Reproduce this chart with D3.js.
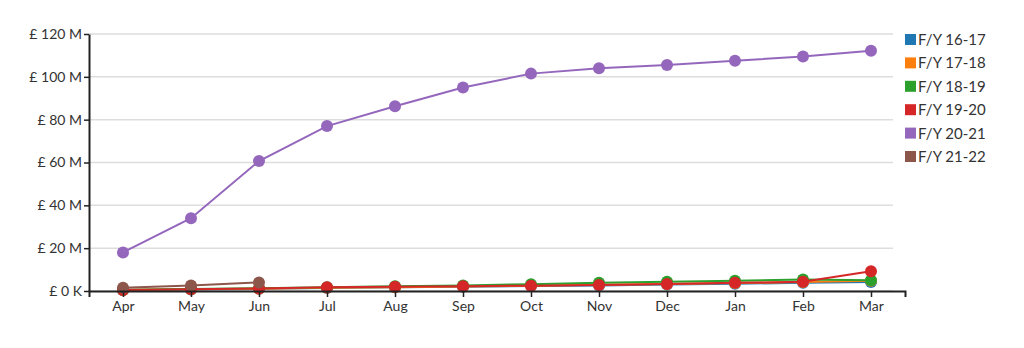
<!DOCTYPE html>
<html><head><meta charset="utf-8">
<script src="https://cdn.jsdelivr.net/npm/d3@7"></script>
<style>
body{margin:0;background:#fff;}
text{font-family:Lato,"Open Sans",sans-serif;fill:#333;}
</style></head><body>
<svg id="c" width="1024" height="348"></svg>
<script>
const months = ["Apr","May","Jun","Jul","Aug","Sep","Oct","Nov","Dec","Jan","Feb","Mar"];
const seriesNames = ["F/Y 16-17","F/Y 17-18","F/Y 18-19","F/Y 19-20","F/Y 20-21","F/Y 21-22"];
const colors = ["#1f77b4","#ff7f0e","#2ca02c","#d62728","#9467bd","#8c564b"];
const fy1617 = [0.4,0.7,1.0,1.4,1.7,2.0,2.3,2.6,3.0,3.4,3.8,4.2];
const fy1718 = [0.5,0.8,1.1,1.5,1.8,2.1,2.5,2.9,3.3,3.7,4.2,4.8];
const fy1819 = [0.6,0.9,1.3,1.8,2.2,2.6,3.2,3.8,4.3,4.8,5.4,5.0];
const fy1920 = [0.5,0.8,1.2,1.8,2.0,2.2,2.5,2.8,3.3,3.8,4.3,9.2];
const fy2021 = [18.0,34.0,60.7,77.0,86.3,95.0,101.5,104.0,105.5,107.5,109.5,112.2];
const fy2122 = [1.5,2.6,4.0];
const yTicks = [0,20,40,60,80,100,120];
const seriesValues = [fy1617,fy1718,fy1819,fy1920,fy2021,fy2122];

const svg = d3.select("#c");
const x = d3.scalePoint().domain(months).range([89,905]).padding(0.5);
const y = d3.scaleLinear().domain([0,120]).range([291,34]);

// gridlines
svg.append("g").selectAll("line").data(yTicks).join("line")
  .attr("x1",89).attr("x2",893).attr("y1",d=>y(d)).attr("y2",d=>y(d))
  .attr("stroke","#ddd").attr("stroke-width",1.5);

const line = d3.line().x(d=>x(d.m)).y(d=>y(d.v));
seriesValues.forEach((vals,i)=>{
  const pts = vals.map((v,j)=>({m:months[j],v}));
  const g = svg.append("g");
  g.append("path").datum(pts).attr("d",line).attr("fill","none")
    .attr("stroke",colors[i]).attr("stroke-width",2);
  g.selectAll("circle").data(pts).join("circle")
    .attr("cx",d=>x(d.m)).attr("cy",d=>y(d.v)).attr("r",6).attr("fill",colors[i]);
});

// axes
const yAxis = svg.append("g").attr("transform","translate(89,0)")
  .call(d3.axisLeft(y).tickValues(yTicks).tickSize(5).tickSizeOuter(0)
    .tickFormat(d=> d===0 ? "£ 0 K" : "£ " + d + " M"));
const xAxis = svg.append("g").attr("transform","translate(0,291)")
  .call(d3.axisBottom(x).tickSize(6).tickSizeOuter(6));
[yAxis,xAxis].forEach(a=>{
  a.selectAll("path").attr("stroke","#222").attr("stroke-width",2);
  a.selectAll("line").attr("stroke","#222").attr("stroke-width",1.5);
  a.selectAll("text").style("font-family","Lato,sans-serif").style("font-size","14px").attr("fill","#333");
});
yAxis.selectAll("text").attr("x",-7);
xAxis.selectAll("text").attr("y",10);

// legend
const lg = svg.append("g").selectAll("g").data(seriesNames).join("g")
  .attr("transform",(d,i)=>`translate(905,${40 + i*23.4})`);
lg.append("rect").attr("x",0).attr("y",-6).attr("width",11).attr("height",11)
  .attr("fill",(d,i)=>colors[i]);
lg.append("text").attr("x",13).attr("y",5).text(d=>d)
  .style("font-size","15px");
</script>
</body></html>
